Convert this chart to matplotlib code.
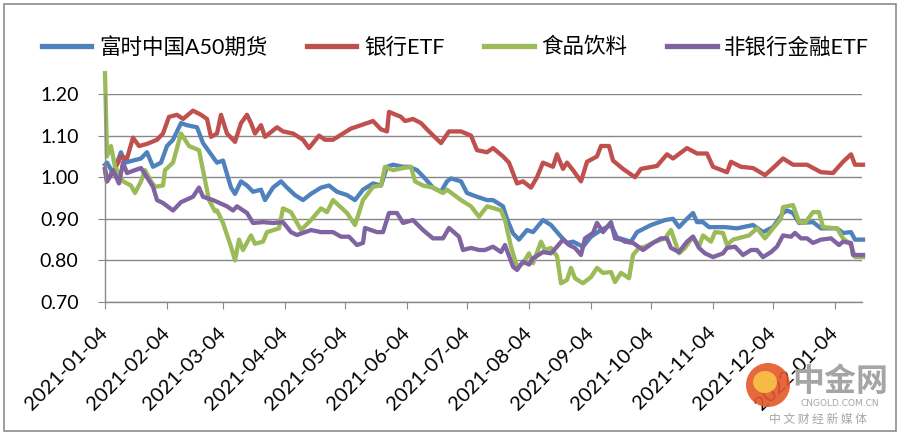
#Chart of four normalised index series over 2021 (Excel-style line chart)

import datetime
from matplotlib import pyplot as plt
from matplotlib import patches
import matplotlib.dates as mdates

plt.rcParams['font.family'] = ['Lato', 'Noto Sans CJK SC', 'DejaVu Sans']

#series names as in the legend
names = ['富时中国A50期货', '银行ETF', '食品饮料', '非银行金融ETF']

#days after 2021-01-04 and values
a50_days = [0,1,4,8,10,14,18,21,24,28,31,34,38,41,46,49,53,56,59,63,65,68,71,74,78,80,84,88,91,95,
            99,103,108,112,116,121,125,129,134,138,141,144,149,152,156,160,164,168,171,173,178,181,186,191,194,199,201,204,207,211,
            214,219,223,228,231,234,239,243,248,253,256,263,266,273,280,284,287,291,294,296,299,302,310,316,324,329,334,339,341,344,
            347,354,358,366,369,373,375,379]
a50_vals = [1.03,1.035,1.01,1.06,1.035,1.04,1.045,1.06,1.025,1.035,1.075,1.09,1.13,1.125,1.12,1.082,1.055,1.035,1.04,0.975,
            0.96,0.99,0.98,0.965,0.97,0.945,0.975,0.99,0.975,0.957,0.945,0.96,0.975,0.98,0.965,0.957,0.945,0.97,0.985,0.98,
            1.025,1.03,1.025,1.025,1.017,0.997,0.975,0.965,0.99,0.997,0.99,0.962,0.953,0.945,0.945,0.93,0.90,0.865,0.85,0.873,
            0.868,0.897,0.885,0.857,0.842,0.845,0.833,0.857,0.873,0.885,0.855,0.845,0.868,0.885,0.897,0.90,0.88,0.90,0.914,0.892,
            0.892,0.88,0.88,0.877,0.885,0.868,0.88,0.914,0.92,0.914,0.89,0.892,0.877,0.877,0.866,0.868,0.85,0.85]

bank_days = [0,1,5,8,11,14,17,21,26,29,32,36,39,44,48,51,53,56,58,61,65,68,71,73,75,78,80,86,89,94,
             99,102,107,110,114,123,128,134,138,141,142,148,150,154,158,162,168,172,178,183,186,191,194,199,202,206,209,213,216,219,
             224,226,229,231,234,238,241,246,248,252,254,259,265,268,276,281,284,291,296,301,304,311,313,318,324,330,334,339,344,351,
             358,364,369,373,375,379]
bank_vals = [1.02,0.99,1.02,1.05,1.045,1.095,1.075,1.08,1.09,1.105,1.145,1.15,1.14,1.16,1.15,1.14,1.097,1.105,1.15,1.105,
             1.085,1.13,1.15,1.13,1.105,1.125,1.097,1.12,1.11,1.105,1.09,1.07,1.10,1.09,1.09,1.117,1.125,1.135,1.115,1.11,
             1.157,1.145,1.135,1.14,1.13,1.11,1.082,1.11,1.11,1.10,1.065,1.06,1.07,1.05,1.035,0.985,0.99,0.975,1.00,1.035,
             1.025,1.055,1.02,1.035,1.017,0.99,1.037,1.05,1.075,1.075,1.04,1.02,1.00,1.02,1.027,1.055,1.045,1.07,1.057,1.057,
             1.025,1.012,1.037,1.025,1.022,1.005,1.022,1.045,1.03,1.03,1.012,1.01,1.037,1.055,1.03,1.03]

food_days = [0,1,3,5,9,13,15,18,20,23,25,29,30,34,38,42,47,49,52,55,56,59,63,65,67,69,73,75,79,81,
             87,89,93,98,103,108,111,114,121,125,129,134,138,140,144,149,153,155,159,164,169,171,178,183,187,191,194,198,200,203,
             206,209,212,214,218,220,223,226,228,231,233,235,239,243,246,249,253,255,258,262,264,267,270,275,280,283,285,287,290,294,
             297,299,303,305,309,311,314,318,322,326,330,334,338,339,344,347,350,354,357,359,366,369,373,375,379]
food_vals = [1.25,1.05,1.075,1.025,0.99,0.98,0.962,0.99,1.017,0.99,0.977,0.98,1.017,1.035,1.105,1.075,1.065,1.017,0.945,0.918,
             0.92,0.89,0.833,0.80,0.85,0.825,0.86,0.84,0.845,0.868,0.877,0.925,0.916,0.873,0.897,0.925,0.916,0.945,0.914,0.885,
             0.945,0.977,0.98,1.025,1.017,1.022,1.025,0.99,0.98,0.975,0.962,0.97,0.945,0.93,0.905,0.93,0.926,0.92,0.897,0.833,
             0.785,0.793,0.817,0.793,0.845,0.825,0.83,0.81,0.745,0.753,0.782,0.757,0.745,0.76,0.782,0.77,0.772,0.748,0.77,0.757,
             0.813,0.83,0.833,0.845,0.853,0.873,0.845,0.817,0.83,0.857,0.833,0.86,0.845,0.868,0.866,0.837,0.85,0.855,0.86,0.877,
             0.853,0.877,0.90,0.928,0.933,0.892,0.89,0.916,0.916,0.88,0.877,0.853,0.837,0.808,0.808]

nonbank_days = [0,1,4,7,9,11,15,18,21,24,26,29,34,38,44,47,49,54,61,64,66,71,74,79,84,89,93,96,103,108,
                111,114,118,122,126,129,130,136,139,142,146,149,154,159,164,169,172,177,179,183,187,190,194,198,200,204,206,209,212,214,
                219,223,226,229,232,235,238,240,244,246,249,253,255,258,260,264,269,274,278,281,283,287,291,294,297,300,304,309,311,315,
                319,323,326,329,333,336,339,343,345,348,351,354,358,363,367,369,373,374,379]
nonbank_vals = [1.017,0.99,1.017,0.985,1.035,1.01,1.017,1.022,1.00,0.977,0.945,0.938,0.92,0.94,0.953,0.975,0.953,0.945,0.93,0.92,
                0.93,0.914,0.89,0.892,0.89,0.892,0.868,0.861,0.873,0.868,0.868,0.868,0.857,0.857,0.837,0.842,0.878,0.868,0.868,0.914,
                0.914,0.89,0.897,0.873,0.853,0.853,0.878,0.857,0.825,0.83,0.825,0.825,0.833,0.82,0.837,0.785,0.777,0.797,0.79,0.805,
                0.82,0.817,0.833,0.85,0.837,0.83,0.813,0.853,0.866,0.89,0.868,0.892,0.853,0.85,0.845,0.842,0.825,0.842,0.853,0.853,
                0.83,0.82,0.845,0.857,0.83,0.817,0.808,0.817,0.83,0.833,0.813,0.825,0.825,0.808,0.82,0.833,0.86,0.857,0.866,0.853,
                0.853,0.842,0.85,0.853,0.837,0.845,0.842,0.813,0.813]

colors = ['#4F81BD', '#C0504D', '#9BBB59', '#8064A2']
yticks = [0.70, 0.80, 0.90, 1.00, 1.10, 1.20]

start = datetime.datetime(2021, 1, 4)
def to_dates(days):
    return [start + datetime.timedelta(days=d) for d in days]

W, H = 902, 436
fig = plt.figure(figsize=(W / 100, H / 100), dpi=100)
ax = fig.add_axes([105 / W, 134 / H, 757 / W, 208 / H])

series = [(a50_days, a50_vals), (bank_days, bank_vals), (food_days, food_vals), (nonbank_days, nonbank_vals)]
for (d, v), c, n in zip(series, colors, names):
    #the food series starts above 1.20, Excel lets it run past the plot area
    ax.plot(to_dates(d), v, color=c, lw=3.1, label=n, solid_joinstyle='round', clip_on=False)

ax.set_ylim(0.70, 1.20)
ax.set_yticks(yticks)
ax.set_yticklabels(['%.2f' % t for t in yticks])
ax.set_xlim(start, start + datetime.timedelta(days=378.5))
xt = [datetime.datetime(2021, m, 4) for m in range(1, 13)] + [datetime.datetime(2022, 1, 4)]
ax.set_xticks(xt)
ax.xaxis.set_major_formatter(mdates.DateFormatter('%Y-%m-%d'))

ax.grid(axis='y', color='#888888', lw=1.0)
ax.set_axisbelow(True)
for s in ['top', 'right']:
    ax.spines[s].set_visible(False)
for s in ['left', 'bottom']:
    ax.spines[s].set_color('#888888')
    ax.spines[s].set_linewidth(1.0)
ax.tick_params(axis='y', direction='out', length=5, color='#888888', labelsize=14, pad=14)
ax.tick_params(axis='x', direction='out', length=5, color='#888888', labelsize=14.5, pad=15)
for lab in ax.get_xticklabels():
    lab.set_rotation(45)
    lab.set_ha('right')
    lab.set_va('center')
    lab.set_rotation_mode('anchor')

leg = fig.legend(loc='center', bbox_to_anchor=(0.505, 1 - 47 / H), ncol=4, frameon=False,
                 fontsize=15.5, handlelength=2.3, handletextpad=0.35, columnspacing=1.85)
for l in leg.get_lines():
    l.set_linewidth(3.8)

#outer chart border
fig.patches.append(patches.Rectangle((4 / W, 5 / H), 892 / W, 427 / H, transform=fig.transFigure,
                                     fill=False, edgecolor='#8c8c8c', lw=1.2))

#watermark logo
fig.patches.append(patches.Ellipse((768 / W, 1 - 385 / H), 44 / W, 44 / H, transform=fig.transFigure,
                                   facecolor='#E4572A', edgecolor='none', alpha=0.9))
fig.patches.append(patches.Ellipse((765 / W, 1 - 382 / H), 24 / W, 22 / H, transform=fig.transFigure,
                                   facecolor='#F7C545', edgecolor='none', alpha=0.9))
fig.text(840 / W, 1 - 382 / H, '中金网', ha='center', va='center', fontsize=23, color='#a5a5a5',
         fontweight='bold', family=['Noto Sans CJK SC'])
fig.text(840 / W, 1 - 403 / H, 'CNGOLD.COM.CN', ha='center', va='center', fontsize=6.5, color='#a5a5a5',
         family=['DejaVu Sans'])
fig.text(818 / W, 1 - 419 / H, '中 文 财 经 新 媒 体', ha='center', va='center', fontsize=8.5, color='#a5a5a5',
         family=['Noto Sans CJK SC'])

plt.savefig('out.png', dpi=100)
